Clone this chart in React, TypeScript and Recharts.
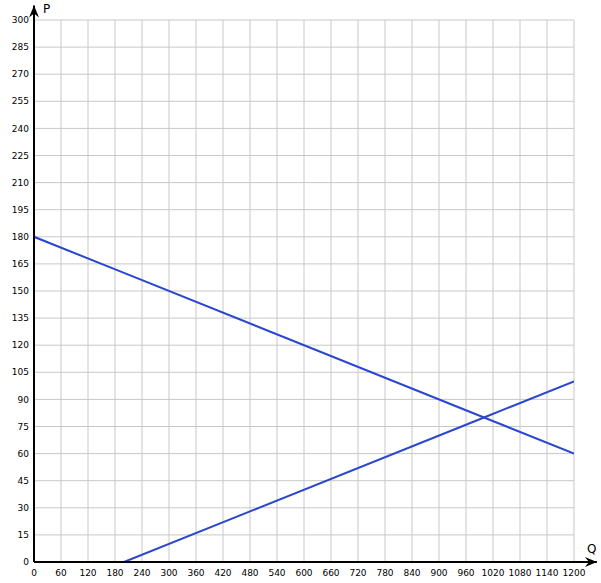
import { LineChart, Line, XAxis, YAxis, CartesianGrid, ReferenceLine } from 'recharts';

const quantities = [0, 200, 1000, 1200];
const demand = [180, 160, 80, 60];
const supply = [null, 0, 80, 100];

const qTicks = [0, 60, 120, 180, 240, 300, 360, 420, 480, 540, 600, 660, 720, 780, 840, 900, 960, 1020, 1080, 1140, 1200];
const pTicks = [0, 15, 30, 45, 60, 75, 90, 105, 120, 135, 150, 165, 180, 195, 210, 225, 240, 255, 270, 285, 300];

const data = quantities.map((q, i) => ({ q, demand: demand[i], supply: supply[i] }));

const font = 'DejaVu Sans, sans-serif';

function ArrowX(props: any) {
  const { x1, y1, x2, y2 } = props;
  return (
    <g>
      <line x1={x1} y1={y1} x2={x2} y2={y2} stroke="#000" strokeWidth={2} />
      <path d={`M${x2},${y2} L${x2 - 12},${y2 - 5} L${x2 - 8},${y2} L${x2 - 12},${y2 + 5} Z`} fill="#000" />
      <text x={x2 - 10} y={y2 - 9} fontSize={12} fontFamily={font} fill="#000">Q</text>
    </g>
  );
}

function ArrowY(props: any) {
  const { x1, y1, x2, y2 } = props;
  const tip = Math.min(y1, y2);
  const base = Math.max(y1, y2);
  return (
    <g>
      <line x1={x1} y1={base} x2={x2} y2={tip} stroke="#000" strokeWidth={2} />
      <path d={`M${x1},${tip} L${x1 - 5},${tip + 12} L${x1},${tip + 8} L${x1 + 5},${tip + 12} Z`} fill="#000" />
      <text x={x1 + 9} y={tip + 7} fontSize={12} fontFamily={font} fill="#000">P</text>
    </g>
  );
}

export default function App() {
  return (
    <div style={{ position: 'absolute', left: 0, top: 0, background: '#fff' }}>
      <LineChart width={601} height={583} data={data} margin={{ top: 20, right: 27, bottom: 0, left: 0 }}>
        <CartesianGrid stroke="#c8c8c8" strokeWidth={1} horizontalValues={pTicks} verticalValues={qTicks} />
        <XAxis
          dataKey="q"
          type="number"
          domain={[0, 1200]}
          ticks={qTicks}
          interval={0}
          height={21}
          axisLine={false}
          tickLine={false}
          tickSize={0}
          tickMargin={8}
          tick={{ fontSize: 9, fontFamily: font, fill: '#000' }}
          allowDataOverflow
        />
        <YAxis
          type="number"
          domain={[0, 300]}
          ticks={pTicks}
          interval={0}
          width={34}
          axisLine={false}
          tickLine={false}
          tickSize={0}
          tickMargin={5}
          tick={{ fontSize: 9, fontFamily: font, fill: '#000' }}
          allowDataOverflow
        />
        <Line dataKey="demand" stroke="#2a46d0" strokeWidth={2} dot={false} isAnimationActive={false} />
        <Line dataKey="supply" stroke="#2a46d0" strokeWidth={2} dot={false} isAnimationActive={false} />
        <ReferenceLine segment={[{ x: 0, y: 0 }, { x: 1251, y: 0 }]} ifOverflow="visible" shape={ArrowX} />
        <ReferenceLine segment={[{ x: 0, y: 0 }, { x: 0, y: 308 }]} ifOverflow="visible" shape={ArrowY} />
      </LineChart>
    </div>
  );
}
